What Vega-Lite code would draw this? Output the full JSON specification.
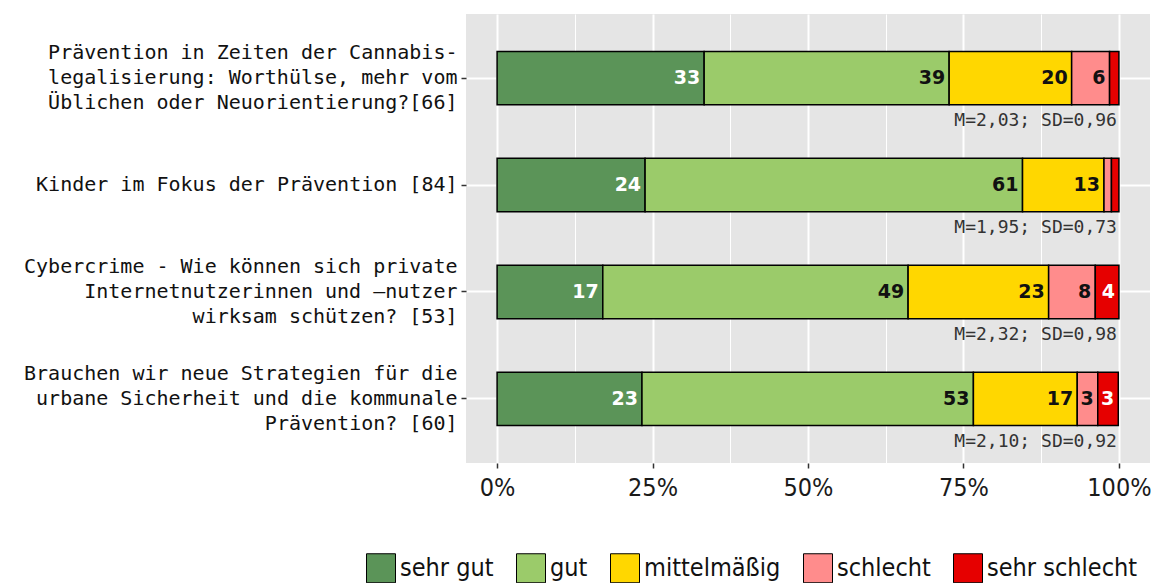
{
  "$schema": "https://vega.github.io/schema/vega-lite/v6.json",
  "width": 684,
  "height": 449,
  "autosize": "none",
  "padding": {"left": 466, "top": 14, "right": 21, "bottom": 120},
  "background": "white",
  "config": {
    "view": {"stroke": null, "fill": "#E5E5E5"},
    "font": "DejaVu Sans"
  },
  "datasets": {
    "resp": [
      {"cat": "Prävention in Zeiten der Cannabis-\nlegalisierung: Worthülse, mehr vom\nÜblichen oder Neuorientierung?[66]", "level": "sehr gut", "ord": 1, "pct": 33.3, "label": "33"},
      {"cat": "Prävention in Zeiten der Cannabis-\nlegalisierung: Worthülse, mehr vom\nÜblichen oder Neuorientierung?[66]", "level": "gut", "ord": 2, "pct": 39.4, "label": "39"},
      {"cat": "Prävention in Zeiten der Cannabis-\nlegalisierung: Worthülse, mehr vom\nÜblichen oder Neuorientierung?[66]", "level": "mittelmäßig", "ord": 3, "pct": 19.7, "label": "20"},
      {"cat": "Prävention in Zeiten der Cannabis-\nlegalisierung: Worthülse, mehr vom\nÜblichen oder Neuorientierung?[66]", "level": "schlecht", "ord": 4, "pct": 6.1, "label": "6"},
      {"cat": "Prävention in Zeiten der Cannabis-\nlegalisierung: Worthülse, mehr vom\nÜblichen oder Neuorientierung?[66]", "level": "sehr schlecht", "ord": 5, "pct": 1.5, "label": ""},
      {"cat": "Kinder im Fokus der Prävention [84]", "level": "sehr gut", "ord": 1, "pct": 23.8, "label": "24"},
      {"cat": "Kinder im Fokus der Prävention [84]", "level": "gut", "ord": 2, "pct": 60.7, "label": "61"},
      {"cat": "Kinder im Fokus der Prävention [84]", "level": "mittelmäßig", "ord": 3, "pct": 13.1, "label": "13"},
      {"cat": "Kinder im Fokus der Prävention [84]", "level": "schlecht", "ord": 4, "pct": 1.2, "label": ""},
      {"cat": "Kinder im Fokus der Prävention [84]", "level": "sehr schlecht", "ord": 5, "pct": 1.2, "label": ""},
      {"cat": "Cybercrime - Wie können sich private\nInternetnutzerinnen und –nutzer\nwirksam schützen? [53]", "level": "sehr gut", "ord": 1, "pct": 17.0, "label": "17"},
      {"cat": "Cybercrime - Wie können sich private\nInternetnutzerinnen und –nutzer\nwirksam schützen? [53]", "level": "gut", "ord": 2, "pct": 49.1, "label": "49"},
      {"cat": "Cybercrime - Wie können sich private\nInternetnutzerinnen und –nutzer\nwirksam schützen? [53]", "level": "mittelmäßig", "ord": 3, "pct": 22.6, "label": "23"},
      {"cat": "Cybercrime - Wie können sich private\nInternetnutzerinnen und –nutzer\nwirksam schützen? [53]", "level": "schlecht", "ord": 4, "pct": 7.5, "label": "8"},
      {"cat": "Cybercrime - Wie können sich private\nInternetnutzerinnen und –nutzer\nwirksam schützen? [53]", "level": "sehr schlecht", "ord": 5, "pct": 3.8, "label": "4"},
      {"cat": "Brauchen wir neue Strategien für die\nurbane Sicherheit und die kommunale\nPrävention? [60]", "level": "sehr gut", "ord": 1, "pct": 23.3, "label": "23"},
      {"cat": "Brauchen wir neue Strategien für die\nurbane Sicherheit und die kommunale\nPrävention? [60]", "level": "gut", "ord": 2, "pct": 53.3, "label": "53"},
      {"cat": "Brauchen wir neue Strategien für die\nurbane Sicherheit und die kommunale\nPrävention? [60]", "level": "mittelmäßig", "ord": 3, "pct": 16.7, "label": "17"},
      {"cat": "Brauchen wir neue Strategien für die\nurbane Sicherheit und die kommunale\nPrävention? [60]", "level": "schlecht", "ord": 4, "pct": 3.3, "label": "3"},
      {"cat": "Brauchen wir neue Strategien für die\nurbane Sicherheit und die kommunale\nPrävention? [60]", "level": "sehr schlecht", "ord": 5, "pct": 3.3, "label": "3"}
    ],
    "stats": [
      {"cat": "Prävention in Zeiten der Cannabis-\nlegalisierung: Worthülse, mehr vom\nÜblichen oder Neuorientierung?[66]", "txt": "M=2,03; SD=0,96", "pos": 100},
      {"cat": "Kinder im Fokus der Prävention [84]", "txt": "M=1,95; SD=0,73", "pos": 100},
      {"cat": "Cybercrime - Wie können sich private\nInternetnutzerinnen und –nutzer\nwirksam schützen? [53]", "txt": "M=2,32; SD=0,98", "pos": 100},
      {"cat": "Brauchen wir neue Strategien für die\nurbane Sicherheit und die kommunale\nPrävention? [60]", "txt": "M=2,10; SD=0,92", "pos": 100}
    ]
  },
  "layer": [
    {
      "data": {"name": "resp"},
      "transform": [
        {"stack": "pct", "groupby": ["cat"], "sort": [{"field": "ord", "order": "ascending"}], "as": ["x0", "x1"]}
      ],
      "mark": {"type": "bar", "stroke": "black", "strokeWidth": 1.5},
      "encoding": {
        "x": {
          "field": "x0", "type": "quantitative",
          "scale": {"domain": [-5, 105], "nice": false, "zero": false},
          "axis": {
            "title": null,
            "values": [0, 12.5, 25, 37.5, 50, 62.5, 75, 87.5, 100],
            "labelExpr": "datum.value % 25 === 0 ? datum.value + '%' : ''",
            "grid": true,
            "gridColor": "white",
            "gridWidth": {"condition": {"test": "datum.value % 25 === 0", "value": 2}, "value": 1},
            "tickOpacity": {"condition": {"test": "datum.value % 25 === 0", "value": 1}, "value": 0},
            "domain": false,
            "tickColor": "#333333",
            "tickSize": 5,
            "tickWidth": 1.5,
            "labelFont": "DejaVu Sans Condensed",
            "labelFontSize": 25,
            "labelColor": "#1a1a1a",
            "labelPadding": 7,
            "labelFlush": false
          }
        },
        "x2": {"field": "x1"},
        "y": {
          "field": "cat", "type": "nominal",
          "sort": [
            "Prävention in Zeiten der Cannabis-\nlegalisierung: Worthülse, mehr vom\nÜblichen oder Neuorientierung?[66]",
            "Kinder im Fokus der Prävention [84]",
            "Cybercrime - Wie können sich private\nInternetnutzerinnen und –nutzer\nwirksam schützen? [53]",
            "Brauchen wir neue Strategien für die\nurbane Sicherheit und die kommunale\nPrävention? [60]"
          ],
          "scale": {"paddingInner": 0.5, "paddingOuter": 0.35},
          "axis": {
            "title": null,
            "labelExpr": "split(datum.label, '\\n')",
            "labelOffset": {"condition": {"test": "indexof(datum.label, '\\n') >= 0", "value": -25}, "value": 0},
            "bandPosition": 0.5,
            "grid": true,
            "gridColor": "white",
            "gridWidth": 2,
            "domain": false,
            "tickColor": "#333333",
            "tickSize": 5,
            "tickWidth": 1.5,
            "labelFont": "DejaVu Sans Mono",
            "labelFontSize": 20,
            "labelLineHeight": 25,
            "labelColor": "#111111",
            "labelPadding": 4,
            "labelLimit": 0
          }
        },
        "color": {
          "field": "level", "type": "nominal",
          "scale": {
            "domain": ["sehr gut", "gut", "mittelmäßig", "schlecht", "sehr schlecht"],
            "range": ["#5B9458", "#9BCB6A", "#FFD700", "#FF8C8C", "#E60000"]
          },
          "legend": {
            "title": null,
            "orient": "none",
            "direction": "horizontal",
            "legendX": -100,
            "legendY": 539,
            "symbolType": "square",
            "symbolSize": 841,
            "symbolStrokeColor": "black",
            "symbolStrokeWidth": 1,
            "symbolOpacity": 1,
            "labelFont": "DejaVu Sans Condensed",
            "labelFontSize": 25,
            "labelColor": "#111111",
            "labelOffset": 4,
            "columnPadding": 20,
            "labelLimit": 0
          }
        },
        "order": {"field": "ord", "type": "quantitative"}
      }
    },
    {
      "data": {"name": "resp"},
      "transform": [
        {"stack": "pct", "groupby": ["cat"], "sort": [{"field": "ord", "order": "ascending"}], "as": ["x0", "x1"]},
        {"filter": "datum.label !== ''"}
      ],
      "mark": {
        "type": "text", "align": "right", "baseline": "middle", "dx": -4,
        "fontSize": 19, "fontWeight": "bold"
      },
      "encoding": {
        "x": {"field": "x1", "type": "quantitative"},
        "y": {"field": "cat", "type": "nominal", "sort": [
            "Prävention in Zeiten der Cannabis-\nlegalisierung: Worthülse, mehr vom\nÜblichen oder Neuorientierung?[66]",
            "Kinder im Fokus der Prävention [84]",
            "Cybercrime - Wie können sich private\nInternetnutzerinnen und –nutzer\nwirksam schützen? [53]",
            "Brauchen wir neue Strategien für die\nurbane Sicherheit und die kommunale\nPrävention? [60]"
          ]},
        "text": {"field": "label"},
        "color": {
          "condition": {"test": "datum.level === 'sehr gut' || datum.level === 'sehr schlecht'", "value": "white"},
          "value": "#111111"
        }
      }
    },
    {
      "data": {"name": "stats"},
      "mark": {
        "type": "text", "align": "right", "baseline": "middle", "dx": -2, "dy": 43,
        "font": "DejaVu Sans Mono", "fontSize": 18, "color": "#333333"
      },
      "encoding": {
        "x": {"field": "pos", "type": "quantitative"},
        "y": {"field": "cat", "type": "nominal", "sort": [
            "Prävention in Zeiten der Cannabis-\nlegalisierung: Worthülse, mehr vom\nÜblichen oder Neuorientierung?[66]",
            "Kinder im Fokus der Prävention [84]",
            "Cybercrime - Wie können sich private\nInternetnutzerinnen und –nutzer\nwirksam schützen? [53]",
            "Brauchen wir neue Strategien für die\nurbane Sicherheit und die kommunale\nPrävention? [60]"
          ]},
        "text": {"field": "txt"}
      }
    }
  ]
}
